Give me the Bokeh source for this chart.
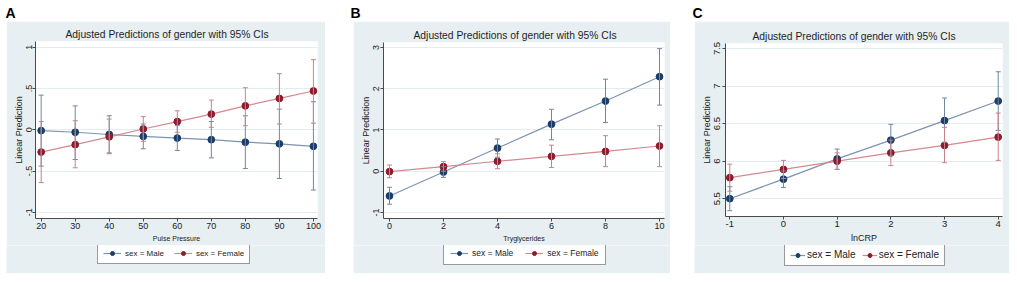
from bokeh.plotting import figure
from bokeh.models import (ColumnDataSource, Whisker, TeeHead, Label, Title,
                          Legend, LegendItem, FixedTicker, Range1d, Spacer)
from bokeh.layouts import row, column
from bokeh.embed import file_html
from bokeh.resources import INLINE

TITLE = "Adjusted Predictions of gender with 95% CIs"
Y_LABEL = "Linear Prediction"
LEGEND_LABELS = ["sex = Male", "sex = Female"]

# ---------------- Panel A ----------------
A_letter = "A"
A_xlabel = "Pulse Pressure"
A_x = [20, 30, 40, 50, 60, 70, 80, 90, 100]
A_male = [-0.01, -0.03, -0.057, -0.08, -0.10, -0.12, -0.15, -0.17, -0.20]
A_male_lo = [-0.44, -0.36, -0.28, -0.23, -0.25, -0.34, -0.47, -0.59, -0.73]
A_male_hi = [0.42, 0.29, 0.17, 0.07, 0.05, 0.10, 0.17, 0.25, 0.34]
A_female = [-0.27, -0.18, -0.085, 0.01, 0.10, 0.19, 0.29, 0.38, 0.47]
A_female_lo = [-0.64, -0.46, -0.29, -0.14, -0.03, 0.03, 0.05, 0.07, 0.08]
A_female_hi = [0.10, 0.11, 0.13, 0.16, 0.23, 0.36, 0.51, 0.68, 0.85]
A_xticks = [20, 30, 40, 50, 60, 70, 80, 90, 100]
A_xtick_labels = ["20", "30", "40", "50", "60", "70", "80", "90", "100"]
A_yticks = [-1, -0.5, 0, 0.5, 1]
A_ytick_labels = ["-1", "-.5", "0", ".5", "1"]

# ---------------- Panel B ----------------
B_letter = "B"
B_xlabel = "Tryglycerides"
B_x = [0, 2, 4, 6, 8, 10]
B_male = [-0.60, -0.02, 0.56, 1.14, 1.70, 2.29]
B_male_lo = [-0.80, -0.15, 0.34, 0.76, 1.18, 1.60]
B_male_hi = [-0.39, 0.11, 0.78, 1.50, 2.23, 2.97]
B_female = [-0.01, 0.11, 0.24, 0.36, 0.48, 0.61]
B_female_lo = [-0.16, 0.00, 0.06, 0.09, 0.11, 0.11]
B_female_hi = [0.15, 0.23, 0.42, 0.63, 0.86, 1.10]
B_xticks = [0, 2, 4, 6, 8, 10]
B_xtick_labels = ["0", "2", "4", "6", "8", "10"]
B_yticks = [-1, 0, 1, 2, 3]
B_ytick_labels = ["-1", "0", "1", "2", "3"]

# ---------------- Panel C ----------------
C_letter = "C"
C_xlabel = "lnCRP"
C_x = [-1, 0, 1, 2, 3, 4]
C_male = [5.50, 5.76, 6.03, 6.28, 6.54, 6.80]
C_male_lo = [5.34, 5.65, 5.89, 6.07, 6.25, 6.41]
C_male_hi = [5.66, 5.87, 6.16, 6.49, 6.84, 7.19]
C_female = [5.78, 5.89, 6.00, 6.11, 6.21, 6.32]
C_female_lo = [5.60, 5.77, 5.89, 5.94, 5.98, 6.01]
C_female_hi = [5.96, 6.01, 6.11, 6.28, 6.45, 6.64]
C_xticks = [-1, 0, 1, 2, 3, 4]
C_xtick_labels = ["-1", "0", "1", "2", "3", "4"]
C_yticks = [5.5, 6, 6.5, 7, 7.5]
C_ytick_labels = ["5.5", "6", "6.5", "7", "7.5"]

FONT = "Liberation Sans"
BLUE_BG = "#e8eff2"
MALE_MARK = "#1a3d68"
FEMALE_MARK = "#8e1b2c"
MALE_LINE = "#7d94b1"
FEMALE_LINE = "#d58890"
MALE_CI = "#6f87a4"
FEMALE_CI = "#c7838b"
AXIS_COL = "#4a4a4a"
TEXT_COL = "#222222"
TOTAL_H = 282
LEG_TOP = 245


def bare_fig(W, H, fill, xr, yr):
    p = figure(width=W, height=H, output_backend="svg", toolbar_location=None,
               x_range=Range1d(*xr), y_range=Range1d(*yr),
               x_axis_type=None, y_axis_type=None, min_border=0)
    p.outline_line_color = None
    p.border_fill_color = fill
    p.background_fill_color = fill
    p.grid.visible = False
    return p


def make_panel(letter, xlabel, x, m, mlo, mhi, f, flo, fhi,
               xticks, xtlabels, yticks, ytlabels, lay):
    W = lay["W"]
    bx0, bx1, by0, by1 = lay["box"]
    fl, fr, ft, fb = lay["frame"]
    PW, PH = bx1 - bx0, LEG_TOP - by0
    L, R, T, B = fl - bx0, fr - bx0, ft - by0, fb - by0

    # letter strip (white, above the blue box)
    lp = bare_fig(W, by0, "white", (0, W), (0, by0))
    lp.add_layout(Label(x=lay["letter"][0], y=by0 - lay["letter"][1],
                        x_units="screen", y_units="screen", text=letter,
                        text_font=FONT, text_font_size="14px", text_font_style="bold",
                        text_color="black", text_align="left",
                        text_baseline="middle"))

    p = figure(width=PW, height=PH, output_backend="svg", toolbar_location=None,
               x_range=Range1d(*lay["xr"]), y_range=Range1d(*lay["yr"]),
               min_border_left=L, min_border_right=PW - R,
               min_border_top=T, min_border_bottom=PH - B)
    p.border_fill_color = BLUE_BG
    p.background_fill_color = "white"
    p.outline_line_color = None

    p.title = Title(text=TITLE, align="left", offset=lay["toff"],
                    text_font=FONT, text_font_size="10.3px",
                    text_font_style="normal", text_color="#1e1e1e",
                    standoff=lay["tstand"])

    sm = ColumnDataSource(dict(x=x, y=m, lo=mlo, hi=mhi))
    sf = ColumnDataSource(dict(x=x, y=f, lo=flo, hi=fhi))
    for src, col in ((sm, MALE_CI), (sf, FEMALE_CI)):
        p.add_layout(Whisker(source=src, base="x", upper="hi", lower="lo",
                             line_color=col, line_width=1,
                             upper_head=TeeHead(size=5, line_color=col, line_width=1),
                             lower_head=TeeHead(size=5, line_color=col, line_width=1),
                             level="glyph"))
    p.line("x", "y", source=sm, line_color=MALE_LINE, line_width=1.2)
    p.line("x", "y", source=sf, line_color=FEMALE_LINE, line_width=1.2)
    p.scatter("x", "y", source=sm, size=6.8, fill_color=MALE_MARK, line_color=MALE_MARK)
    p.scatter("x", "y", source=sf, size=6.8, fill_color=FEMALE_MARK, line_color=FEMALE_MARK)

    for ax in (p.xaxis[0], p.yaxis[0]):
        ax.axis_line_color = AXIS_COL
        ax.axis_line_width = 1
        ax.major_tick_line_color = AXIS_COL
        ax.major_tick_out = 3
        ax.major_tick_in = 0
        ax.minor_tick_line_color = None
        ax.major_label_text_font = FONT
        ax.major_label_text_color = TEXT_COL
        ax.axis_label_text_font = FONT
        ax.axis_label_text_color = TEXT_COL
        ax.axis_label_text_font_style = "normal"
    p.xaxis.ticker = FixedTicker(ticks=xticks)
    p.xaxis.major_label_overrides = dict(zip(xticks, xtlabels))
    p.yaxis.ticker = FixedTicker(ticks=yticks)
    p.yaxis.major_label_overrides = dict(zip(yticks, ytlabels))
    p.yaxis.major_label_orientation = "vertical"
    p.xaxis.major_label_text_font_size = lay["tick_fs"]
    p.yaxis.major_label_text_font_size = lay["tick_fs"]
    p.xaxis.major_label_standoff = 1
    p.yaxis.major_label_standoff = lay["ystand"]
    p.xaxis.axis_label = xlabel
    p.xaxis.axis_label_text_font_size = lay["xlab_fs"]
    p.xaxis.axis_label_standoff = 3
    p.yaxis.axis_label = Y_LABEL
    p.yaxis.axis_label_text_font_size = "9px"
    p.yaxis.axis_label_standoff = 0
    p.xgrid.visible = False
    p.ygrid.grid_line_color = "#e4ecef"
    p.ygrid.grid_line_width = 1

    # legend strip (inside the blue box); its glyph renderers share the data
    # sources but the view range keeps them off-screen, so only the key shows
    LH = by1 - LEG_TOP
    gp = bare_fig(PW, LH, BLUE_BG, (1e6, 1e6 + 1), (1e6, 1e6 + 1))
    glm = gp.line("x", "y", source=sm, line_color=MALE_LINE, line_width=1.2)
    gsm = gp.scatter("x", "y", source=sm, size=6.8, fill_color=MALE_MARK, line_color=MALE_MARK)
    glf = gp.line("x", "y", source=sf, line_color=FEMALE_LINE, line_width=1.2)
    gsf = gp.scatter("x", "y", source=sf, size=6.8, fill_color=FEMALE_MARK, line_color=FEMALE_MARK)
    gx, gy = lay["legend"]
    leg = Legend(items=[LegendItem(label=LEGEND_LABELS[0], renderers=[glm, gsm]),
                        LegendItem(label=LEGEND_LABELS[1], renderers=[glf, gsf])],
                 location=(gx - bx0, by1 - gy), orientation="horizontal",
                 margin=0, padding=lay["lpad"], spacing=lay["lspace"],
                 glyph_width=lay["gw"], glyph_height=10, label_standoff=lay["lstand"],
                 label_height=10, label_width=10,
                 label_text_font=FONT, label_text_font_size=lay["leg_fs"],
                 label_text_color=TEXT_COL,
                 border_line_color="#333333", border_line_width=1,
                 background_fill_color="white", background_fill_alpha=1)
    gp.add_layout(leg)

    mid = row(Spacer(width=bx0, height=PH), p, Spacer(width=W - bx1, height=PH))
    bot = row(Spacer(width=bx0, height=LH), gp, Spacer(width=W - bx1, height=LH))
    return column(lp, mid, bot, Spacer(width=W, height=TOTAL_H - by1))


layA = dict(W=340, box=(6, 325, 21, 273), frame=(35, 317, 41, 218),
            xr=(18.33, 101.2), yr=(-1.075, 1.07),
            letter=(5, 12), toff=30, tstand=4, legend=(97, 264),
            lpad=5, lspace=10, gw=18, lstand=4, leg_fs="8px",
            tick_fs="9px", xlab_fs="7px", ystand=0)
layB = dict(W=337, box=(13, 330, 21, 273), frame=(43, 324, 42, 218),
            xr=(-0.222, 10.185), yr=(-1.147, 3.119),
            letter=(10, 12), toff=30, tstand=4, legend=(103, 265),
            lpad=6, lspace=12, gw=18, lstand=4, leg_fs="8.5px",
            tick_fs="9px", xlab_fs="7px", ystand=1)
layC = dict(W=340, box=(17, 332, 21, 273), frame=(48, 325, 43, 218),
            xr=(-1.08, 4.08), yr=(5.263, 7.566),
            letter=(15, 12), toff=27, tstand=4, legend=(107, 266),
            lpad=5, lspace=6, gw=15, lstand=2, leg_fs="10px",
            tick_fs="9.5px", xlab_fs="9px", ystand=2)

pA = make_panel(A_letter, A_xlabel, A_x, A_male, A_male_lo, A_male_hi,
                A_female, A_female_lo, A_female_hi,
                A_xticks, A_xtick_labels, A_yticks, A_ytick_labels, layA)
pB = make_panel(B_letter, B_xlabel, B_x, B_male, B_male_lo, B_male_hi,
                B_female, B_female_lo, B_female_hi,
                B_xticks, B_xtick_labels, B_yticks, B_ytick_labels, layB)
pC = make_panel(C_letter, C_xlabel, C_x, C_male, C_male_lo, C_male_hi,
                C_female, C_female_lo, C_female_hi,
                C_xticks, C_xtick_labels, C_yticks, C_ytick_labels, layC)

layout = row(pA, pB, pC)
open("out.html", "w").write(file_html(layout, INLINE))
